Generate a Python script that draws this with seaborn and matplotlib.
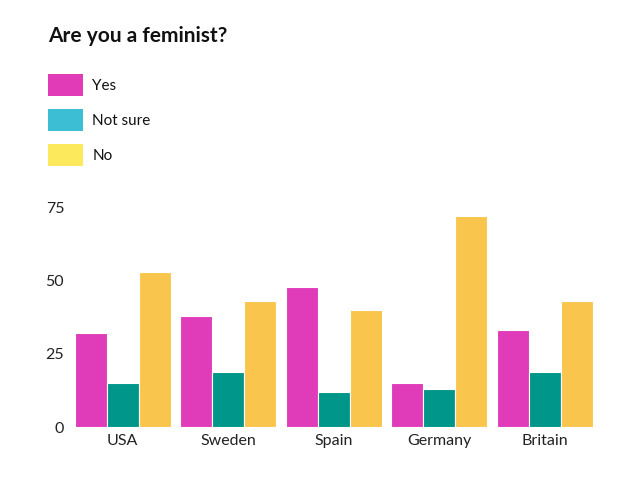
import pandas as pd
import seaborn as sns
from matplotlib import pyplot as plt
from matplotlib.patches import Patch

# Survey answers by country (percent)
countries = ['USA', 'Sweden', 'Spain', 'Germany', 'Britain']
answers = ['Yes', 'Not sure', 'No']
yes = [32, 38, 48, 15, 33]
not_sure = [15, 19, 12, 13, 19]
no = [53, 43, 40, 72, 43]

bar_colors = ['#e03bb9', '#00968a', '#f9c54d']
legend_colors = ['#e23bb8', '#3cbfd4', '#fde95c']

df = pd.DataFrame({
    'country': countries * 3,
    'answer': [a for a in answers for _ in countries],
    'value': yes + not_sure + no,
})

sns.set_theme(style='white')
plt.rcParams['font.family'] = ['Lato', 'DejaVu Sans']

fig = plt.figure(figsize=(6.4, 4.8), dpi=100)
ax = fig.add_axes([0.109, 0.110, 0.825, 0.458])

sns.barplot(data=df, x='country', y='value', hue='answer', hue_order=answers,
            order=countries, palette=bar_colors, width=0.91, gap=0,
            saturation=1, legend=False, edgecolor='white', linewidth=0.8,
            ax=ax)

ax.set_ylim(0, 75)
ax.set_xlim(-0.5, len(countries) - 0.5)
ax.set_yticks([0, 25, 50, 75])
ax.set_xlabel('')
ax.set_ylabel('')
for s in ax.spines.values():
    s.set_visible(False)
ax.tick_params(axis='both', length=0, labelsize=11.5, colors='#222222')
ax.tick_params(axis='y', pad=4)
ax.tick_params(axis='x', pad=5)

fig.text(0.075, 0.905, 'Are you a feminist?', fontsize=15, fontweight='bold',
         color='#111111', va='bottom')

handles = [Patch(facecolor=c, edgecolor='none') for c in legend_colors]
fig.legend(handles, answers, loc='upper left', bbox_to_anchor=(0.075, 0.846),
           frameon=False, borderpad=0, borderaxespad=0, fontsize=11,
           handlelength=2.3, handleheight=1.84, labelspacing=0.85,
           handletextpad=0.6, labelcolor='#111111')

fig.savefig('out.png', dpi=100)
